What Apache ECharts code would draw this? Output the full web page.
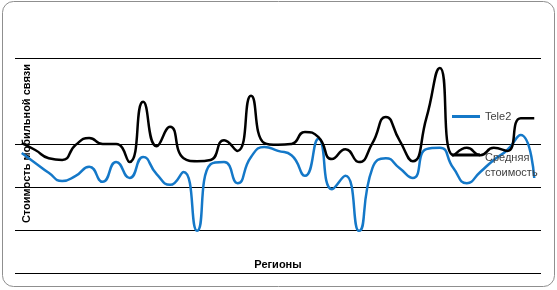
<!DOCTYPE html>
<html>
<head>
<meta charset="utf-8">
<script src="https://cdn.jsdelivr.net/npm/echarts@6/dist/echarts.min.js"></script>
<style>html,body{margin:0;padding:0;background:#fff;}#c{width:557px;height:290px;}</style>
</head>
<body>
<div id="c"></div>
<script>
const regions = ['1','2','3','4','5','6','7','8','9','10','11','12','13','14','15','16','17','18','19','20',
  '21','22','23','24','25','26','27','28','29','30','31','32','33','34','35','36','37','38','39'];
const tele2 = [279,256,233,214,226,247,212,258,221,270,230,205,235,98,253,258,209,270,293,284,
  274,226,312,195,226,98,244,267,244,221,288,291,244,209,235,263,286,321,221];
const average = [302,286,267,263,298,314,300,300,258,398,295,340,267,260,263,309,284,412,302,298,
  300,328,316,265,288,258,302,363,309,260,360,477,274,291,274,291,284,360,360];
const yTicks = [0,100,200,300,400,500];

const chart = echarts.init(document.getElementById('c'), null, {renderer:'canvas'});
const font = '"Liberation Sans", Arial, sans-serif';
chart.setOption({
  animation:false,
  backgroundColor:'#fff',
  graphic:[{type:'rect', shape:{x:2.5,y:1.5,width:552,height:285,r:11}, style:{fill:'none', stroke:'#8f8f8f', lineWidth:1}, z:-1}],
  grid:{left:15,right:16,top:58,bottom:17,containLabel:false},
  legend:[
    {data:['Tele2'], left:452, top:111, padding:0, orient:'vertical', icon:'rect', itemWidth:28, itemHeight:3,
     textStyle:{fontSize:11, color:'#404040', fontFamily:font}},
    {data:['Средняя стоимость'], left:452, top:150, padding:0, orient:'vertical',
     icon:'path://M0,0h28v3h-28z M0,23', itemWidth:28, itemHeight:23,
     formatter:()=> 'Средняя\nстоимость',
     textStyle:{fontSize:11, color:'#404040', fontFamily:font, lineHeight:15}}
  ],
  xAxis:{type:'category', data:regions, boundaryGap:true,
    axisLine:{show:false}, axisTick:{show:false}, axisLabel:{show:false}, splitLine:{show:false},
    name:'Регионы', nameLocation:'middle', nameGap:-8,
    nameTextStyle:{fontSize:11, fontWeight:'bold', color:'#000', fontFamily:font, verticalAlign:'middle'}},
  yAxis:{type:'value', min:yTicks[0], max:yTicks[yTicks.length-1], interval:100,
    axisLine:{show:false}, axisTick:{show:false}, axisLabel:{show:false},
    splitLine:{show:true, lineStyle:{color:['#000','#000','#000','#000','rgba(0,0,0,0)','#000'], width:1}},
    name:'Стоимость мобильной связи', nameLocation:'middle', nameRotate:90, nameGap:-12,
    nameTextStyle:{fontSize:11, fontWeight:'bold', color:'#000', fontFamily:font, verticalAlign:'middle', padding:[0,0,0,44]}},
  series:[
    {name:'Tele2', type:'line', data:tele2, smooth:0.55, symbol:'none', z:2,
     lineStyle:{color:'#1478c8', width:2.5}, itemStyle:{color:'#1478c8'}},
    {name:'Средняя стоимость', type:'line', data:average, smooth:0.55, symbol:'none', z:3,
     lineStyle:{color:'#000', width:2.5}, itemStyle:{color:'#000'}}
  ]
});
</script>
</body>
</html>
